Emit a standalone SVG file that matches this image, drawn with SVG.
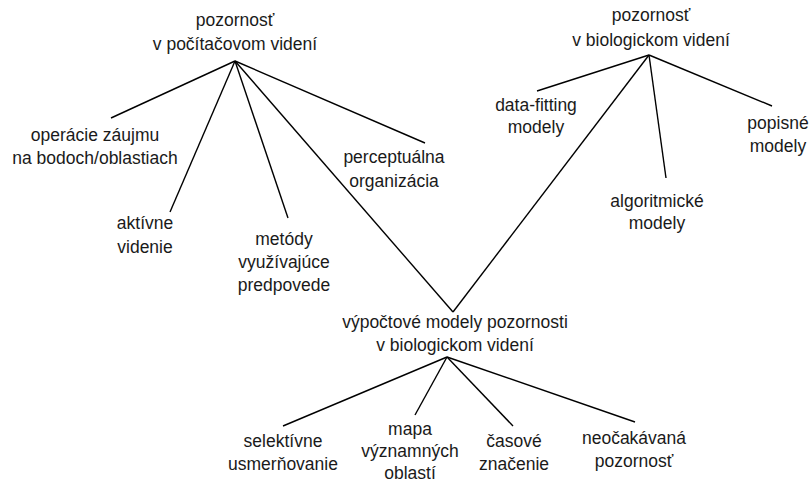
<svg xmlns="http://www.w3.org/2000/svg" width="812" height="483" viewBox="0 0 812 483">
<style>
text{font-family:"Liberation Sans",Arial,sans-serif;font-size:17.5px;fill:#1a1a1a;text-anchor:middle}
.c line{stroke:#000;stroke-width:1.4}
</style>
<rect width="812" height="483" fill="#fff"/>
<g class="c" id="connectors">
<line x1="235" y1="61" x2="111" y2="118"/>
<line x1="235" y1="61" x2="170" y2="212"/>
<line x1="235" y1="61" x2="288" y2="218"/>
<line x1="235" y1="61" x2="453" y2="312"/>
<line x1="235" y1="61" x2="425" y2="143"/>
<line x1="649" y1="55" x2="537" y2="91"/>
<line x1="649" y1="55" x2="772" y2="106"/>
<line x1="649" y1="55" x2="666" y2="178"/>
<line x1="649" y1="55" x2="453" y2="312"/>
<line x1="447" y1="357" x2="283" y2="426"/>
<line x1="447" y1="357" x2="415" y2="415"/>
<line x1="447" y1="357" x2="513" y2="426"/>
<line x1="447" y1="357" x2="635" y2="422"/>
</g>
<g id="n-pc"><text x="235" y="26">pozornosť</text><text x="235" y="50">v počítačovom videní</text></g>
<g id="n-ops"><text x="95" y="141">operácie záujmu</text><text x="95" y="164">na bodoch/oblastiach</text></g>
<g id="n-akt"><text x="145" y="229">aktívne</text><text x="145" y="253">videnie</text></g>
<g id="n-met"><text x="284" y="245">metódy</text><text x="284" y="268">využívajúce</text><text x="284" y="291">predpovede</text></g>
<g id="n-perc"><text x="394" y="163">perceptuálna</text><text x="394" y="187">organizácia</text></g>
<g id="n-bio"><text x="651" y="21">pozornosť</text><text x="651" y="46">v biologickom videní</text></g>
<g id="n-data"><text x="536" y="111">data-fitting</text><text x="536" y="133">modely</text></g>
<g id="n-pop"><text x="778" y="129">popisné</text><text x="778" y="152">modely</text></g>
<g id="n-alg"><text x="657" y="207">algoritmické</text><text x="657" y="229">modely</text></g>
<g id="n-vyp"><text x="455" y="328">výpočtové modely pozornosti</text><text x="455" y="351">v biologickom videní</text></g>
<g id="n-sel"><text x="283" y="447">selektívne</text><text x="283" y="470">usmerňovanie</text></g>
<g id="n-map"><text x="410" y="435">mapa</text><text x="410" y="457">významných</text><text x="410" y="479">oblastí</text></g>
<g id="n-cas"><text x="514" y="447">časové</text><text x="514" y="470">značenie</text></g>
<g id="n-neo"><text x="634" y="444">neočakávaná</text><text x="634" y="467">pozornosť</text></g>
</svg>
